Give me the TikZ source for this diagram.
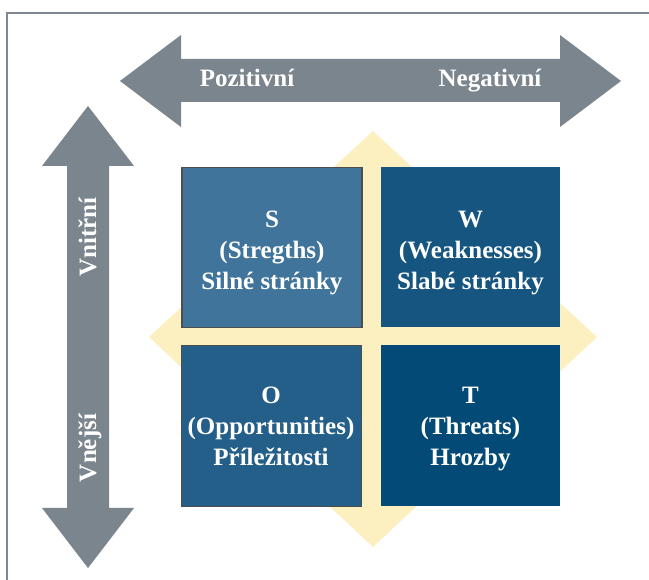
\documentclass[tikz,border=0pt]{standalone}
\usepackage{fontspec}
\setmainfont{Liberation Serif}
\definecolor{arrowgray}{HTML}{7B858E}
\definecolor{framegray}{HTML}{7F8890}
\definecolor{sfill}{HTML}{41749A}
\definecolor{wfill}{HTML}{15557F}
\definecolor{ofill}{HTML}{235F88}
\definecolor{tfill}{HTML}{034A76}
\definecolor{ylw}{HTML}{FDF0C0}
\definecolor{edge}{HTML}{4D4D4D}
\tikzset{
  quad/.style={minimum width=#1, minimum height=160pt, inner sep=0pt, outer sep=0pt, anchor=north west},
  quadtext/.style={text=white, font=\fontsize{25}{31}\selectfont\bfseries, align=center, inner sep=0pt, anchor=north},
  arrowtext/.style={text=white, font=\fontsize{25}{31}\selectfont\bfseries, inner sep=0pt, anchor=base},
}
\begin{document}
\begin{tikzpicture}[x=1pt,y=-1pt]
\useasboundingbox (0,0) rectangle (649,580);
\fill[white] (0,0) rectangle (649,580);
% frame
\draw[framegray, line width=2pt] (7,580) -- (7,13) -- (649,13);
% yellow diamond
\fill[ylw] (373,131) -- (597,337) -- (373,547) -- (149,337) -- cycle;
% horizontal double arrow
\fill[arrowgray] (120,81) -- (181,35) -- (181,59) -- (560,59) -- (560,35) -- (621,81)
  -- (560,127) -- (560,102) -- (181,102) -- (181,127) -- cycle;
% vertical double arrow
\fill[arrowgray] (88,106) -- (134,166) -- (109,166) -- (109,508) -- (134,508) -- (88,568)
  -- (42,508) -- (67,508) -- (67,166) -- (42,166) -- cycle;
% quadrants
\node[quad=180pt, fill=sfill, draw=edge, line width=1.5pt] (S) at (182,167.5) {};
\node[quad=179pt, fill=wfill] (W) at (381,167.5) {};
\node[quad=180pt, fill=ofill, draw=edge, line width=1.5pt, minimum height=161pt] (O) at (181.5,345.5) {};
\node[quad=179pt, fill=tfill, minimum height=161pt] (T) at (381,345.5) {};
% texts
\node[quadtext] (St) at (272,210.5) {S\\(Stregths)\\Silné stránky};
\node[quadtext] (Wt) at (470.5,210.5) {W\\(Weaknesses)\\Slabé stránky};
\node[quadtext] (Ot) at (271,386.5) {O\\(Opportunities)\\Příležitosti};
\node[quadtext] (Tt) at (470.5,386.5) {T\\(Threats)\\Hrozby};
\node[arrowtext] (pos) at (247,87) {Pozitivní};
\node[arrowtext] (neg) at (490,87) {Negativní};
\node[arrowtext, rotate=90] (vni) at (96,237) {Vnitřní};
\node[arrowtext, rotate=90] (vne) at (96,448) {Vnější};
\end{tikzpicture}
\end{document}
